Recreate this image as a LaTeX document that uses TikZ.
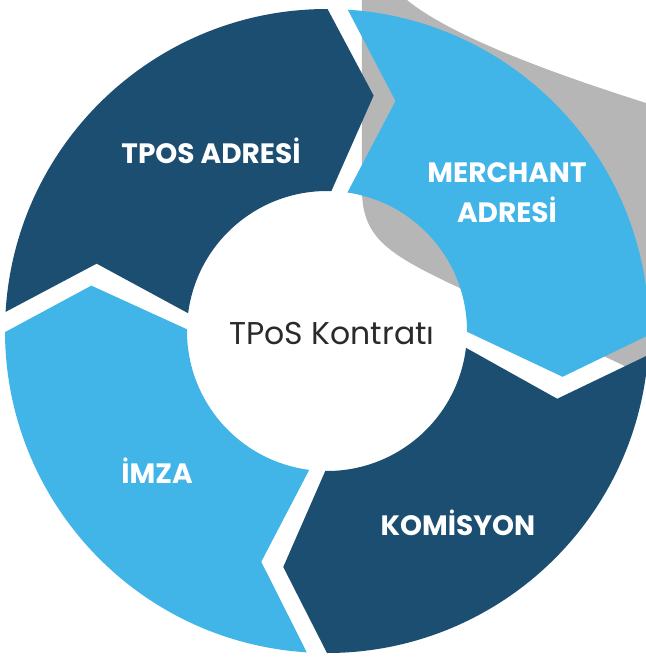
\documentclass[tikz,border=0pt]{standalone}
\usepackage{fontspec}
\setmainfont{Poppins}
\definecolor{darkseg}{HTML}{1B4E70}
\definecolor{lightseg}{HTML}{41B5E7}
\definecolor{shadowgray}{HTML}{B6B6B6}
\definecolor{centertext}{HTML}{2A2A2A}
\newcommand\segRo{322}
\newcommand\segRt{240}
\newcommand\segRi{140}
\newcommand\segGo{1.8}
\newcommand\segGt{2.7}
\newcommand\segGi{3.3}
% #1 colour; #2 #3 #4: trailing boundary (outer, tip, inner angles); #5 #6 #7: leading boundary
\newcommand\ringseg[7]{%
  \fill[#1] ({#2-\segGo}:\segRo) arc[start angle={#2-\segGo}, end angle={#5+\segGo}, radius=\segRo]
    -- ({#6+\segGt}:\segRt) -- ({#7+\segGi}:\segRi)
    arc[start angle={#7+\segGi}, end angle={#4-\segGi}, radius=\segRi]
    -- ({#3-\segGt}:\segRt) -- cycle;}
\begin{document}
\begin{tikzpicture}[x=1pt,y=1pt,
  seglabel/.style={text=white, font=\fontsize{28}{40}\selectfont\bfseries, align=center, inner sep=0pt},
  centerlabel/.style={text=centertext, font=\fontsize{31.5}{36}\selectfont, inner sep=0pt}]
\useasboundingbox (-327,-326) rectangle (319,331);
\clip (-327,-326) rectangle (319,331);
% shadow behind the top-right segment
\fill[shadowgray] (35,340) -- (35,141) .. controls (35,95) and (60,78) .. (120,49)
  -- (340,-55) -- (340,222) -- (319,228) .. controls (250,250) and (130,290) .. (80,331)
  -- (80,340) -- cycle;
% boundaries: top (88.1,76.1,84.9), right (-2.5,-13.7,-3.6), bottom (-91.8,-103.2,-94), left (178.4,166.4,176)
\ringseg{darkseg}{178.4}{166.4}{176}{88.1}{76.1}{84.9}
\ringseg{lightseg}{88.1}{76.1}{84.9}{-2.5}{-13.7}{-3.6}
\ringseg{darkseg}{-2.5}{-13.7}{-3.6}{-91.8}{-103.2}{-94}
\ringseg{lightseg}{-91.8}{-103.2}{-94}{-181.6}{-193.6}{-184}
\node[seglabel] (tpos) at (-116,180) {TPOS ADRESİ};
\node[seglabel] (merchant) at (180,138) {MERCHANT\\ADRESİ};
\node[seglabel] (komisyon) at (131,-192) {KOMİSYON};
\node[seglabel] (imza) at (-170,-140) {İMZA};
\node[centerlabel] (center) at (5,-3) {TPoS Kontratı};
\end{tikzpicture}
\end{document}
